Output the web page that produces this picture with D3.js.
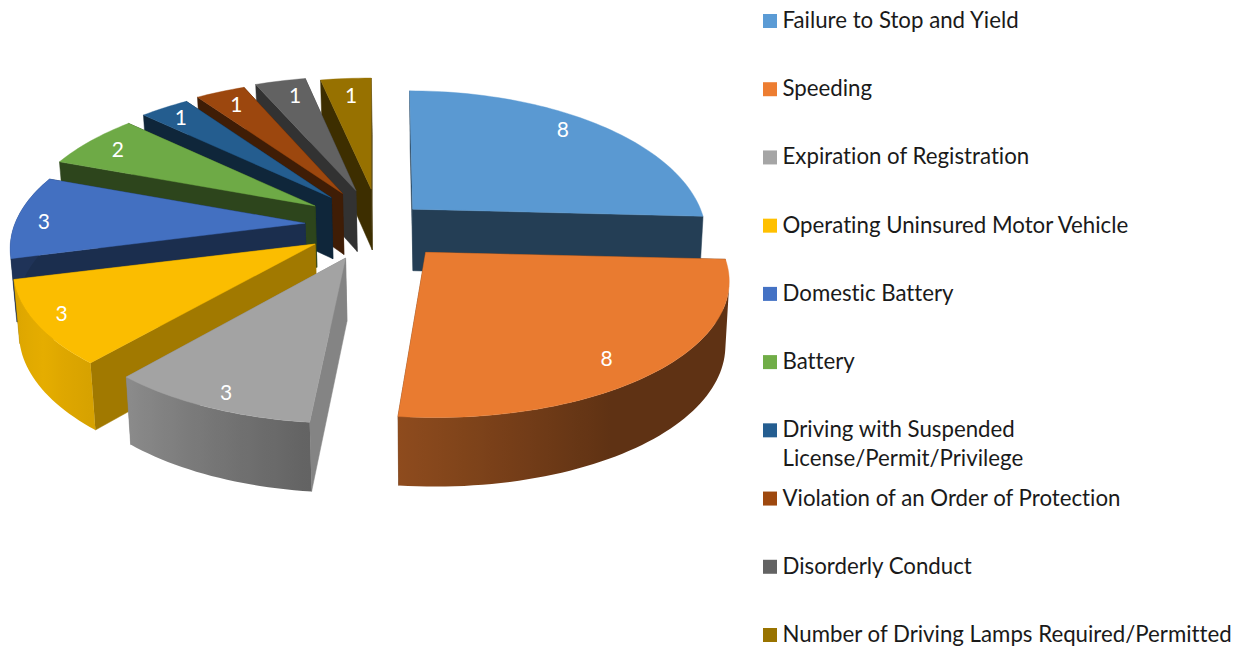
<!DOCTYPE html>
<html><head><meta charset="utf-8">
<script src="https://cdnjs.cloudflare.com/ajax/libs/d3/7.8.5/d3.min.js"></script>
<style>html,body{margin:0;padding:0;background:#fff;overflow:hidden}svg{display:block}text{font-family:Lato,"Open Sans",sans-serif;font-variant-ligatures:none}</style>
</head><body>
<script>
// ---- data ----
const categories = ["Failure to Stop and Yield","Speeding","Expiration of Registration","Operating Uninsured Motor Vehicle","Domestic Battery","Battery","Driving with Suspended License/Permit/Privilege","Violation of an Order of Protection","Disorderly Conduct","Number of Driving Lamps Required/Permitted"];
const values = [8,8,3,3,3,2,1,1,1,1];
const colors = ["#5B9BD5","#ED7D31","#A5A5A5","#FFC000","#4472C4","#70AD47","#255E91","#9E480E","#636363","#997300"];
// ---- layout of the 3-D view ----
const W=1242,H=646;
const centre={x:372,y:225}, explode={x:67,y:36};
const radiusX=[288,297,290,297,290,290,292,292,297,297], radiusY=[140,135,135,135,135,135,135,135,135,131.5];
const shear=[.025,.055,0,0,0,0,0,0,0,0];
const persp=0.183, topShade=.985;
const wallShade=[.4,.45,.8,.63,.4,.4,.4,.4,.5,.4];
const apexNudge=[[-8,9],[10,0],[0,0],[0,0],[0,0],[0,0],[3,0],[3,0],[4,0],[6,0]];
const labelNudge=[[-8,-5],[-11,8],[-6,12],[-20,3],[-17,4],[-4,0],[-6,-2],[0,-1],[5,0],[2,3]];
const paintOrder=[9,8,7,6,5,4,3,2,0,1];
const rimShade=d3.scaleLinear().domain([90,150,186,220,235,254,255,360]).range([.4,.4,.6,.84,.9,.85,.45,.45]);

const svg=d3.select("body").append("svg").attr("width",W).attr("height",H);
const defs=svg.append("defs");
const arcs=d3.pie().sort(null).startAngle(0).endAngle(2*Math.PI)(values);
const line=d3.line();
const shade=(c,f)=>{const k=d3.rgb(c);return d3.rgb(k.r*f,k.g*f,k.b*f).formatHex();};

function local(i,o,u,v){const s=1+persp*v,dy=-radiusY[i]*v/s;return [o[0]+radiusX[i]*u/s+shear[i]*dy,o[1]+dy];}
function low(p){return [p[0]+(448-p[0])*.0137,p[1]+54+.036*p[1]];}

const gPie=svg.append("g");
arcs.forEach(a=>a.mid=(a.startAngle+a.endAngle)/2);
paintOrder.forEach(i=>{
  const a=arcs[i],c=colors[i];
  const apex=[centre.x+explode.x*Math.sin(a.mid)+apexNudge[i][0],centre.y-explode.y*Math.cos(a.mid)+apexNudge[i][1]];
  const n=Math.max(6,Math.ceil((a.endAngle-a.startAngle)*180/Math.PI/1.5));
  const rim=d3.range(n+1).map(k=>{const t=a.startAngle+(a.endAngle-a.startAngle)*k/n;return {t,p:local(i,apex,Math.sin(t),Math.cos(t))};});
  const g=gPie.append("g").attr("class","slice");
  const wall=(p,q,f)=>g.append("path").attr("d",line([p,q,low(q),low(p)])+"Z").attr("fill",shade(c,f)).attr("stroke",shade(c,f)).attr("stroke-width",.5);
  const start=rim[0].p,end=rim[n].p;
  // hidden wall first, then the visible one
  [[apex,start],[end,apex]].sort((x,y)=>(y[1][0]-y[0][0])-(x[1][0]-x[0][0])).forEach(w=>wall(w[0],w[1],wallShade[i]));
  // outer band: keep the part that faces the viewer, shaded along x
  const front=rim.filter((r,k)=>{const q=rim[Math.min(k+1,n)],b=rim[Math.max(k-1,0)];return q.p[0]<b.p[0]||a.index===4;});
  if(front.length>1){
    const xs=front.map(r=>r.p[0]),x0=d3.min(xs),x1=d3.max(xs);
    const grad=defs.append("linearGradient").attr("id","rim"+i).attr("gradientUnits","userSpaceOnUse")
      .attr("x1",x0).attr("x2",x1).attr("y1",0).attr("y2",0);
    const stops=front.slice().sort((p,q)=>p.p[0]-q.p[0]);
    stops.forEach(r=>grad.append("stop").attr("offset",x1>x0?(r.p[0]-x0)/(x1-x0):0).attr("stop-color",shade(c,rimShade(r.t*180/Math.PI))));
    const pts=front.map(r=>r.p);
    g.append("path").attr("d",line([...pts,...pts.slice().reverse().map(low)])+"Z").attr("fill",`url(#rim${i})`);
  }
  const top=shade(c,topShade);
  g.append("path").attr("d",line([apex,...rim.map(r=>r.p)])+"Z").attr("fill",top).attr("stroke",top).attr("stroke-width",.4);
  a.apex=apex;
});
// data labels
svg.append("g").selectAll("text").data(arcs).join("text")
  .attr("x",(d,i)=>local(i,d.apex,.85*Math.sin(d.mid),.85*Math.cos(d.mid))[0]+labelNudge[i][0])
  .attr("y",(d,i)=>local(i,d.apex,.85*Math.sin(d.mid),.85*Math.cos(d.mid))[1]+labelNudge[i][1])
  .attr("text-anchor","middle").attr("dy","0.35em").attr("fill","#fff").attr("font-size",21)
  .text(d=>d.data);
// legend
const legendY=d3.scaleLinear().domain([0,9]).range([21,635]);
const leg=svg.append("g").selectAll("g").data(categories).join("g").attr("transform",(d,i)=>`translate(763,${legendY(i)})`);
leg.append("rect").attr("x",0).attr("y",-7).attr("width",14).attr("height",14).attr("fill",(d,i)=>colors[i]);
const wrap={"Driving with Suspended License/Permit/Privilege":["Driving with Suspended","License/Permit/Privilege"]};
leg.each(function(d){
  const lines=wrap[d]||[d];
  const t=d3.select(this).append("text").attr("font-size",22.25).attr("fill","#1a1a1a");
  lines.forEach((s,k)=>t.append("tspan").attr("x",19.5).attr("y",7+k*29).text(s));
});
</script>
</body></html>
